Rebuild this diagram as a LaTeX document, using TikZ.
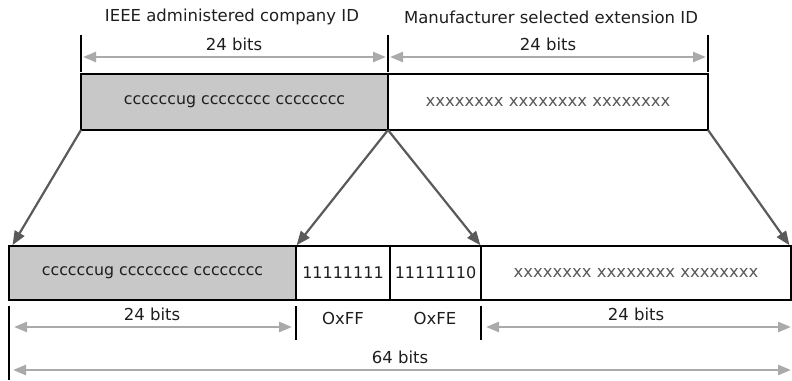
\documentclass[tikz,border=0pt]{standalone}
\usepackage{fontspec}
\setmainfont{DejaVu Sans}
\usetikzlibrary{arrows.meta}
\definecolor{fieldgray}{RGB}{200,200,200}
\definecolor{dimgray}{RGB}{170,170,170}
\definecolor{conngray}{RGB}{90,90,90}
\definecolor{txt}{RGB}{30,30,30}
\begin{document}
\begin{tikzpicture}[x=1pt,y=-1pt,
  field/.style={draw=black,line width=1.3pt,inner sep=0pt,outer sep=0pt,anchor=north west,text=txt,font=\fontsize{15.8}{18}\selectfont},
  xfield/.style={field,text=black!65,font=\fontsize{16.5}{18}\selectfont},
  lbl/.style={inner sep=0pt,text=txt,font=\fontsize{16.5}{18}\selectfont},
  tickline/.style={draw=black,line width=1.2pt},
  dimline/.style={draw=dimgray,line width=2.6pt,{Triangle[length=13pt,width=10pt]}-{Triangle[length=13pt,width=10pt]}},
  conn/.style={draw=conngray,line width=2.2pt,-{Triangle[length=14pt,width=11pt]},shorten >=1pt}]
\useasboundingbox (0,0) rectangle (792,380);
% top fields
\node[field,fill=fieldgray,minimum width=307pt,minimum height=56pt] (tl) at (81,74) {ccccccug cccccccc cccccccc};
\node[xfield,minimum width=320pt,minimum height=56pt] (tr) at (388,74) {xxxxxxxx xxxxxxxx xxxxxxxx};
% bottom fields
\node[field,fill=fieldgray,minimum width=287pt,minimum height=54pt] (b1) at (9,246) {ccccccug cccccccc cccccccc};
\node[field,minimum width=94pt,minimum height=54pt,font=\fontsize{16}{18}\selectfont] (b2) at (296,246) {11111111};
\node[field,minimum width=91pt,minimum height=54pt,font=\fontsize{16}{18}\selectfont] (b3) at (390,246) {11111110};
\node[xfield,minimum width=310pt,minimum height=54pt] (b4) at (481,246) {xxxxxxxx xxxxxxxx xxxxxxxx};
% titles
\node[lbl] (t1) at (232,17) {IEEE administered company ID};
\node[lbl] (t2) at (551,17) {Manufacturer selected extension ID};
% top ticks
\coordinate (ta1) at (81,35); \coordinate (ta2) at (81,72);
\coordinate (tb1) at (388,35); \coordinate (tb2) at (388,72);
\coordinate (tc1) at (708,35); \coordinate (tc2) at (708,72);
\draw[tickline] (ta1) -- (ta2);
\draw[tickline] (tb1) -- (tb2);
\draw[tickline] (tc1) -- (tc2);
% top dimensions
\coordinate (d1a) at (83,57); \coordinate (d1b) at (386,57);
\coordinate (d2a) at (390,57); \coordinate (d2b) at (706,57);
\draw[dimline] (d1a) -- (d1b);
\draw[dimline] (d2a) -- (d2b);
\node[lbl] (l1) at (234,44) {24 bits};
\node[lbl] (l2) at (548,44) {24 bits};
% connectors
\draw[conn] (tl.south west) -- ([xshift=3pt]b1.north west);
\draw[conn] (tl.south east) -- (b2.north west);
\draw[conn] (tl.south east) -- (b3.north east);
\draw[conn] (tr.south east) -- ([xshift=-1pt]b4.north east);
% bottom ticks
\coordinate (ba1) at (9,306); \coordinate (ba2) at (9,380);
\coordinate (bb1) at (296,306); \coordinate (bb2) at (296,340);
\coordinate (bc1) at (481,306); \coordinate (bc2) at (481,340);
\draw[tickline] (ba1) -- (ba2);
\draw[tickline] (bb1) -- (bb2);
\draw[tickline] (bc1) -- (bc2);
% bottom dimensions
\coordinate (e1a) at (14,327); \coordinate (e1b) at (292,327);
\coordinate (e2a) at (486,327); \coordinate (e2b) at (791,327);
\coordinate (e3a) at (13,370); \coordinate (e3b) at (791,370);
\draw[dimline] (e1a) -- (e1b);
\draw[dimline] (e2a) -- (e2b);
\draw[dimline] (e3a) -- (e3b);
\node[lbl] (l3) at (152,314) {24 bits};
\node[lbl] (l4) at (636,314) {24 bits};
\node[lbl] (l5) at (343,318) {OxFF};
\node[lbl] (l6) at (435,318) {OxFE};
\node[lbl] (l7) at (400,357) {64 bits};
\end{tikzpicture}
\end{document}
